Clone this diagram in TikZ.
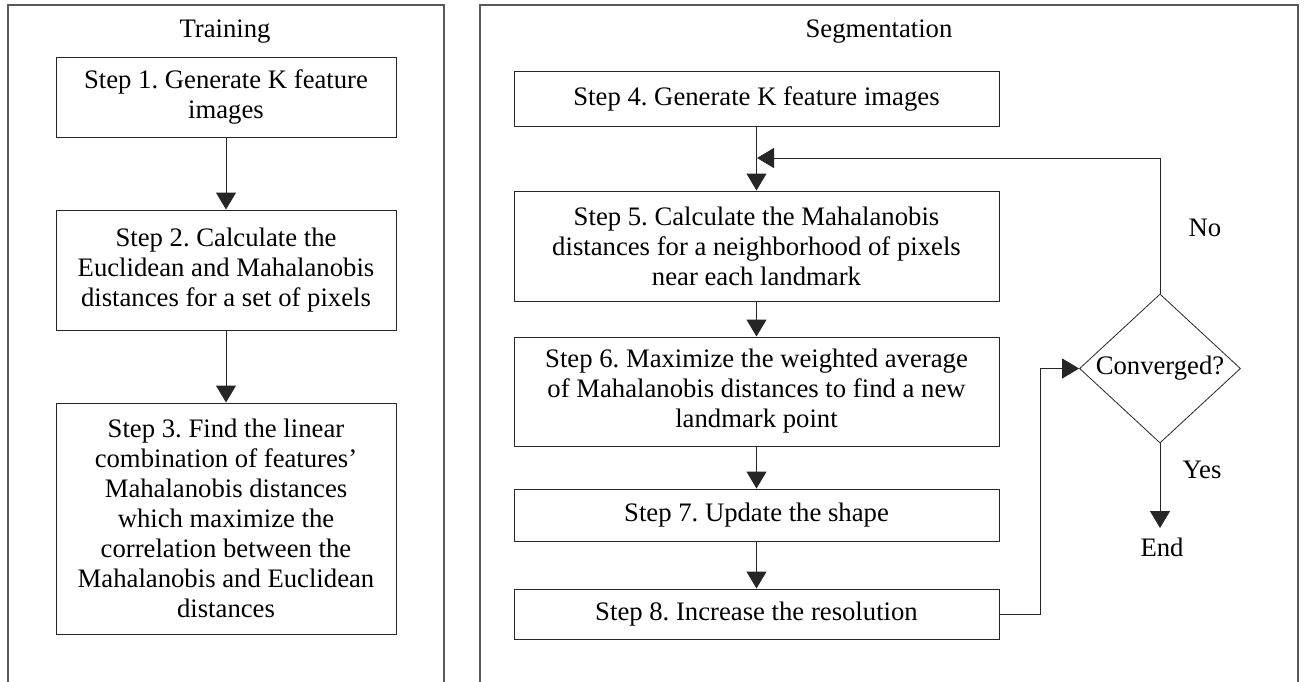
\documentclass[tikz,border=0pt]{standalone}
\usepackage{fontspec}
\setmainfont{Liberation Serif}
\usetikzlibrary{arrows.meta,shapes.geometric}
\frenchspacing
\begin{document}
\begin{tikzpicture}[x=1pt,y=-1pt,
  every node/.style={font=\fontsize{26.7}{30}\selectfont},
  panel/.style={draw=black!65, line width=1.2pt},
  stepbox/.style={draw=black!85, line width=1pt, align=center, inner sep=0pt},
  conn/.style={draw=black!85, line width=1pt},
  arr/.style={conn, -{Triangle[width=20pt,length=17pt]}},
  lbl/.style={inner sep=0pt}
]
\useasboundingbox[fill=white] (0,0) rectangle (1306,681);
\clip (0,0) rectangle (1306,681);
% panels
\draw[panel] (8,720) -- (8,5) -- (444,5) -- (444,720);
\draw[panel] (480,720) -- (480,5) -- (1298,5) -- (1298,720);
\node[lbl] (ttrain) at (225,32) {Training};
\node[lbl] (tseg) at (879,32) {Segmentation};
% training
\node[stepbox, minimum width=340pt, minimum height=80pt] (s1) at (226,97)
  {Step 1. Generate K feature\\images};
\node[stepbox, minimum width=340pt, minimum height=120pt] (s2) at (226,270)
  {Step 2. Calculate the\\Euclidean and Mahalanobis\\distances for a set of pixels};
\node[stepbox, minimum width=340pt, minimum height=231pt] (s3) at (226,518.5)
  {Step 3. Find the linear\\combination of features'\\Mahalanobis distances\\which maximize the\\correlation between the\\Mahalanobis and Euclidean\\distances};
\draw[arr] (s1.south) -- (s2.north);
\draw[arr] (s2.south) -- (s3.north);
% segmentation
\node[stepbox, minimum width=485pt, minimum height=55pt] (s4) at (756.5,98.5)
  {Step 4. Generate K feature images};
\node[stepbox, minimum width=485pt, minimum height=110pt] (s5) at (756.5,246)
  {Step 5. Calculate the Mahalanobis\\distances for a neighborhood of pixels\\near each landmark};
\node[stepbox, minimum width=485pt, minimum height=109pt] (s6) at (756.5,391.5)
  {Step 6. Maximize the weighted average\\of Mahalanobis distances to find a new\\landmark point};
\node[stepbox, minimum width=485pt, minimum height=52pt] (s7) at (756.5,515)
  {Step 7. Update the shape};
\node[stepbox, minimum width=485pt, minimum height=50pt] (s8) at (756.5,614)
  {Step 8. Increase the resolution};
\node[diamond, draw=black!85, line width=0.8pt, minimum width=161pt, minimum height=149pt, inner sep=0pt] (dia) at (1160,368.5) {};
\node[lbl] (diatext) at (dia.center) {Converged?};
\node[lbl] (no) at (1205,228) {No};
\node[lbl] (yes) at (1202,470) {Yes};
\node[inner sep=0pt, inner ysep=10pt, anchor=north] (endn) at (1162,528) {End};
\coordinate (join) at (757,158);
\coordinate (loopx) at (1040,614);
\draw[arr] (s4.south) -- (s5.north);
\draw[arr] (s5.south) -- (s6.north);
\draw[arr] (s6.south) -- (s7.north);
\draw[arr] (s7.south) -- (s8.north);
\draw[arr] (dia.north) |- (join);
\draw[arr] (s8.east) -- (loopx) |- (dia.west);
\draw[arr] (dia.south) -- (dia.south |- endn.north);
\end{tikzpicture}
\end{document}
